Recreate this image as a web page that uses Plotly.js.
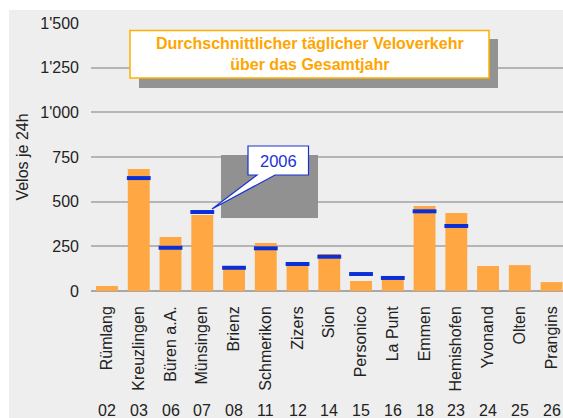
<!DOCTYPE html>
<html>
<head>
<meta charset="utf-8">
<script src="https://cdn.plot.ly/plotly-3.0.1.min.js"></script>
<style>
html,body{margin:0;padding:0;background:#ffffff;width:563px;height:418px;overflow:hidden;}
#chart{position:absolute;left:9px;top:10px;width:554px;height:408px;}
</style>
</head>
<body>
<div id="chart"></div>
<script>
var stations = ["Rümlang","Kreuzlingen","Büren a.A.","Münsingen","Brienz","Schmerikon","Zizers","Sion","Personico","La Punt","Emmen","Hemishofen","Yvonand","Olten","Prangins"];
var codes = ["02","03","06","07","08","11","12","14","15","16","18","23","24","25","26"];
var yearTotal = [28,683,302,425,140,269,145,207,56,74,476,437,140,145,50];
var year2006 = [null,632,242,442,130,239,151,192,95,73,446,364,null,null,null];
var yTicks = [0,250,500,750,1000,1250,1500];

// page-pixel -> paper helpers (plot area spans x 91..563, y 23..291 on the page)
var PL=91, PR=563, PT=23, PB=291;
function px(X){return (X-PL)/(PR-PL);}
function py(Y){return (PB-Y)/(PB-PT);}

var FONT = "Liberation Sans, Arial, sans-serif";
var FS = 16;
var idx = stations.map(function(_,i){return i;});

var traces = [
  {type:"bar", x:idx, y:yearTotal, marker:{color:"#ffa843"}, hoverinfo:"none", showlegend:false},
  {type:"scatter", mode:"markers", x:idx, y:year2006,
   marker:{symbol:"line-ew", size:17, line:{width:4, color:"#0b2fd6"}, color:"#0b2fd6"},
   hoverinfo:"none", showlegend:false}
];

var annotations = [];
codes.forEach(function(c,i){
  annotations.push({x:i, xref:"x", y:py(410), yref:"paper", text:c, showarrow:false,
    xanchor:"center", yanchor:"middle", font:{family:FONT, size:FS, color:"#222"}});
});
annotations.push({x:px(310), y:py(54), xref:"paper", yref:"paper", showarrow:false,
  text:"<b>Durchschnittlicher täglicher Veloverkehr<br>über das Gesamtjahr</b>",
  font:{family:FONT, size:16, color:"#ffa500"}, align:"center",
  xanchor:"center", yanchor:"middle"});
annotations.push({x:px(278.5), y:py(160.5), xref:"paper", yref:"paper", showarrow:false,
  text:"2006", font:{family:FONT, size:16.5, color:"#1a33d0"},
  xanchor:"center", yanchor:"middle"});

function P(X,Y){return px(X).toFixed(5)+","+py(Y).toFixed(5);}
var shapes = [
  {type:"rect", xref:"paper", yref:"paper", x0:px(139), x1:px(498), y0:py(39), y1:py(88),
   fillcolor:"#939393", line:{width:0}},
  {type:"rect", xref:"paper", yref:"paper", x0:px(130), x1:px(489), y0:py(30.5), y1:py(78),
   fillcolor:"#ffffff", line:{width:1.5, color:"#ffb000"}},
  {type:"rect", xref:"paper", yref:"paper", x0:px(221), x1:px(318), y0:py(155), y1:py(218),
   fillcolor:"#919191", line:{width:0}},
  {type:"path", xref:"paper", yref:"paper",
   path:"M"+P(248,146)+" L"+P(308.5,146)+" L"+P(308.5,175)+" L"+P(275,175)+" L"+P(212,209)+" L"+P(257,175)+" L"+P(248,175)+" Z",
   fillcolor:"#ffffff", line:{width:1.2, color:"#1a33d0"}}
];

var layout = {
  width:554, height:408,
  margin:{l:82, r:0, t:13, b:127, pad:0},
  paper_bgcolor:"#eeeeee", plot_bgcolor:"#eeeeee",
  font:{family:FONT, size:FS, color:"#222"},
  separators:".'",
  bargap:0.31,
  xaxis:{type:"linear", range:[-0.504,14.36], tickvals:idx, ticktext:stations, tickangle:-90,
    showgrid:false, zeroline:false, showline:false, ticks:"", fixedrange:true,
    ticklabelstandoff:11, tickfont:{family:FONT, size:FS, color:"#222"}},
  yaxis:{range:[0,1500], tickvals:yTicks, tickformat:",d", showgrid:true, gridcolor:"#b5b5b5", gridwidth:2,
    zeroline:true, zerolinecolor:"#a8a8a8", zerolinewidth:2, showline:false, ticks:"",
    ticklabelstandoff:11, tickfont:{family:FONT, size:FS, color:"#222"},
    title:{text:"Velos je 24h", font:{family:FONT, size:FS, color:"#222"}, standoff:7}},
  annotations:annotations,
  shapes:shapes
};
Plotly.newPlot("chart", traces, layout, {staticPlot:true, displayModeBar:false});
</script>
</body>
</html>
